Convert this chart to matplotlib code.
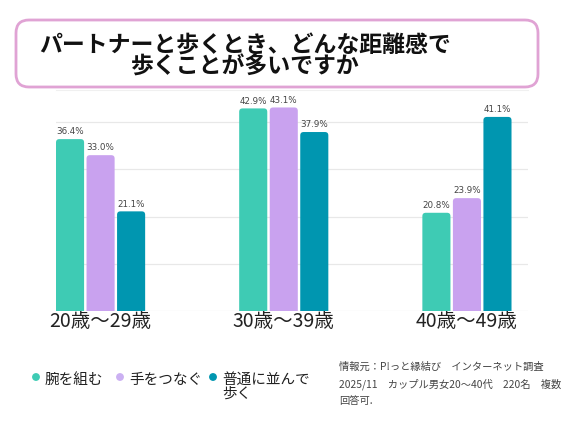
import numpy as np
import matplotlib
matplotlib.use('Agg')
import matplotlib.pyplot as plt
from matplotlib.patches import FancyBboxPatch

plt.rcParams['font.family'] = ['Noto Sans CJK JP', 'DejaVu Sans']

# data
age_groups = ['20歳〜29歳', '30歳〜39歳', '40歳〜49歳']
series_names = ['腕を組む', '手をつなぐ', '普通に並んで\n歩く']
arm_in_arm = [36.4, 42.9, 20.8]
holding_hands = [33.0, 43.1, 23.9]
side_by_side = [21.1, 37.9, 41.1]
colors = ['#3ecbb4', '#c9a2ef', '#0096b0']

title_lines = ['パートナーと歩くとき、どんな距離感で', '歩くことが多いですか']
source_text = ('情報元：P!っと縁結び　インターネット調査\n'
               '2025/11　カップル男女20〜40代　220名　複数\n'
               '回答可.')

W, H = 567, 425
fig = plt.figure(figsize=(W / 100, H / 100), dpi=100)
fig.patch.set_facecolor('white')

# main bar axes
ax = fig.add_axes([56 / W, 1 - 311 / H, 472 / W, 221 / H])
ymax = 46.8
xmin, xmax = -1.46, 14.0
ax.set_xlim(xmin, xmax)
ax.set_ylim(0, ymax)

# aspect so that bar corners come out round
px_x = 472 / (xmax - xmin)
px_y = 221 / ymax
aspect = px_x / px_y

group_x = np.arange(len(age_groups)) * 6
width = 0.92
all_series = [arm_in_arm, holding_hands, side_by_side]
for i, (vals, col) in enumerate(zip(all_series, colors)):
    bars = ax.bar(group_x + (i - 1), vals, width, color=col)
    for b, v in zip(bars, vals):
        x0, w, h = b.get_x(), b.get_width(), b.get_height()
        b.set_visible(False)
        rb = FancyBboxPatch((x0, -2), w, h + 2,
                            boxstyle='round,pad=0,rounding_size=0.11',
                            mutation_aspect=aspect, fc=col, ec='none', zorder=2)
        ax.add_patch(rb)
        ax.text(x0 + w / 2, h + 0.6, '{:.1f}%'.format(v), ha='center', va='bottom',
                fontsize=6.3, color='#444444', family='DejaVu Sans')

ax.set_yticks([0, 10, 20, 30, 40])
ax.yaxis.grid(True, color='#e8e8e8', lw=0.9)
ax.set_axisbelow(True)
ax.tick_params(axis='y', length=0, labelleft=False)
ax.set_xticks(group_x)
ax.set_xticklabels(age_groups, fontsize=14, color='#222222')
ax.tick_params(axis='x', length=0, pad=0)
for s in ['left', 'right', 'bottom']:
    ax.spines[s].set_visible(False)
ax.spines['top'].set_color('#f0f0f0')
ax.spines['top'].set_linewidth(0.8)

# overlay in pixel coordinates for title box, legend, source
ov = fig.add_axes([0, 0, 1, 1])
ov.set_xlim(0, W)
ov.set_ylim(H, 0)
ov.axis('off')

box = FancyBboxPatch((16, 20), 522, 67, boxstyle='round,pad=0,rounding_size=13',
                     fc='white', ec='#e0a3d4', lw=2)
ov.add_patch(box)
ov.text(245, 46, title_lines[0], ha='center', va='center', fontsize=16.5,
        fontweight='bold', color='#111111')
ov.text(245, 67, title_lines[1], ha='center', va='center', fontsize=16.5,
        fontweight='bold', color='#111111')

# legend
dot_x = [36, 120, 213]
text_x = [45, 129, 222.5]
leg_colors = ['#3ecbb4', '#cbb0f2', '#0096b0']
ov.scatter(dot_x, [377] * 3, s=32, c=leg_colors, edgecolors='none')
for tx, name in zip(text_x, series_names):
    ov.text(tx, 373, name, ha='left', va='top', fontsize=10.5, color='#222222',
            linespacing=0.95)

ov.text(339, 362, source_text, ha='left', va='top', fontsize=7.4, color='#444444',
        linespacing=1.75)

fig.savefig('out.png', dpi=100, facecolor='white')
